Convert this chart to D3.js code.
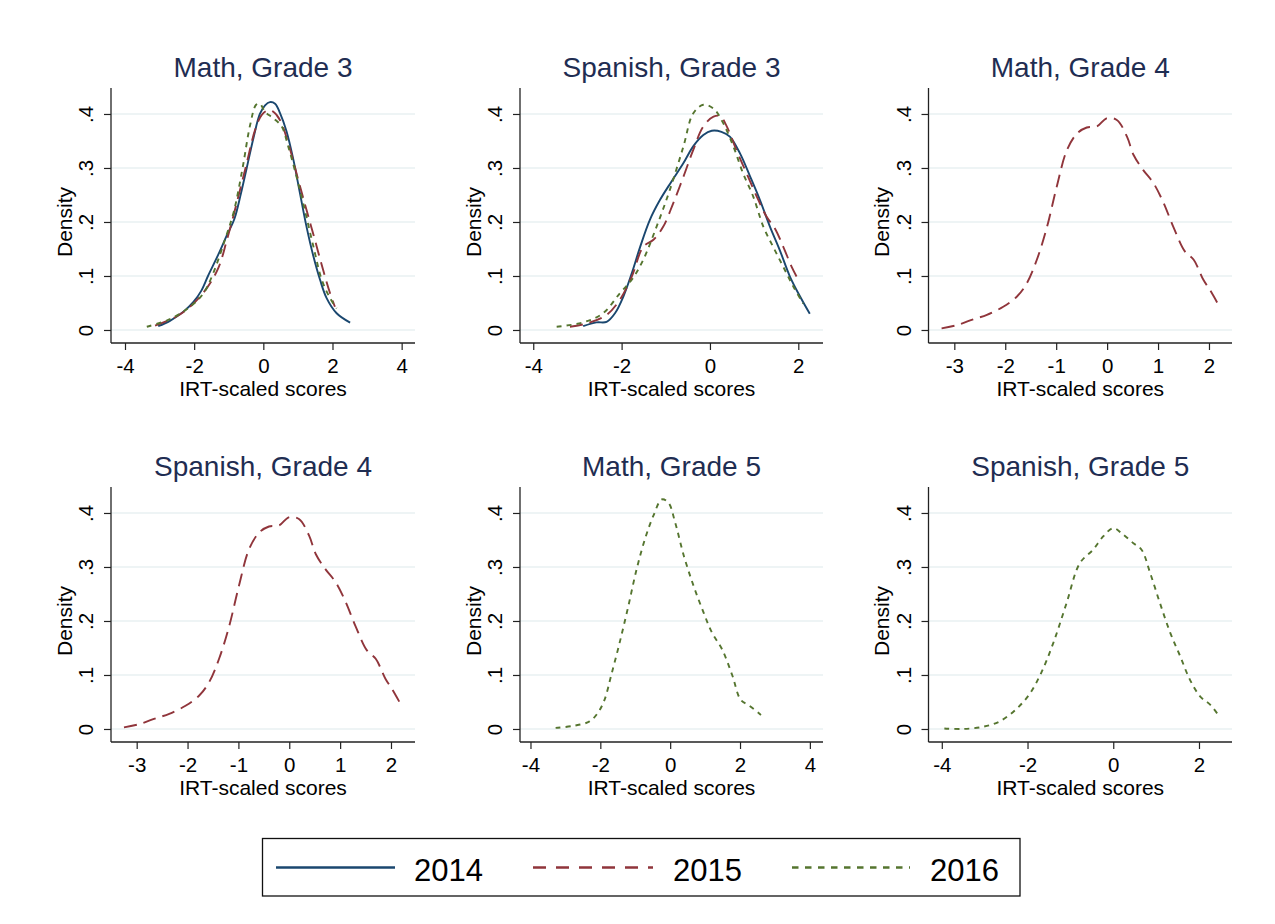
<!DOCTYPE html>
<html>
<head>
<meta charset="utf-8">
<script src="https://cdn.jsdelivr.net/npm/d3@7"></script>
<style>
  html, body { margin: 0; padding: 0; background: #fff; }
  svg { display: block; font-family: "Liberation Sans", Arial, Helvetica, sans-serif; }
</style>
</head>
<body>
<svg id="chart" width="1275" height="924"></svg>
<script>
// ---------------- DATA ----------------
const years = ["2014", "2015", "2016"];
const panelTitles = ["Math, Grade 3", "Spanish, Grade 3", "Math, Grade 4",
                     "Spanish, Grade 4", "Math, Grade 5", "Spanish, Grade 5"];
const xTickValues = [
  [-4, -2, 0, 2, 4],
  [-4, -2, 0, 2],
  [-3, -2, -1, 0, 1, 2],
  [-3, -2, -1, 0, 1, 2],
  [-4, -2, 0, 2, 4],
  [-4, -2, 0, 2]
];
const xDomains = [
  [-4.405, 4.386], [-4.30, 2.559], [-3.507, 2.452],
  [-3.505, 2.472], [-4.30, 4.376], [-4.31, 2.77]
];
const yTickValues = [0, 0.1, 0.2, 0.3, 0.4];
const yTickLabels = ["0", ".1", ".2", ".3", ".4"];
const xAxisTitle = "IRT-scaled scores";
const yAxisTitle = "Density";

// Math, Grade 3
const mathG3_2014 = [[-3.04,0.007],[-2.70,0.017],[-2.31,0.034],[-2.02,0.052],[-1.80,0.072],[-1.60,0.100],[-1.30,0.140],[-1.05,0.176],[-0.84,0.205],[-0.65,0.252],[-0.48,0.300],[-0.28,0.357],[-0.10,0.400],[0.05,0.416],[0.19,0.422],[0.34,0.419],[0.48,0.402],[0.67,0.368],[0.87,0.315],[1.06,0.253],[1.25,0.191],[1.45,0.136],[1.64,0.093],[1.83,0.059],[2.12,0.031],[2.51,0.0136]];
const mathG3_2015 = [[-3.13,0.008],[-2.51,0.025],[-2.12,0.043],[-1.64,0.077],[-1.30,0.115],[-1.06,0.165],[-0.77,0.235],[-0.48,0.309],[-0.24,0.370],[-0.05,0.398],[0.14,0.407],[0.29,0.404],[0.48,0.389],[0.72,0.346],[1.01,0.278],[1.25,0.222],[1.49,0.167],[1.73,0.111],[1.93,0.068],[2.07,0.043]];
const mathG3_2016 = [[-3.37,0.006],[-2.70,0.020],[-2.12,0.043],[-1.73,0.068],[-1.45,0.105],[-1.11,0.167],[-0.85,0.220],[-0.60,0.300],[-0.38,0.380],[-0.21,0.417],[-0.10,0.419],[0.05,0.404],[0.29,0.392],[0.53,0.377],[0.72,0.340],[0.96,0.284],[1.20,0.222],[1.45,0.154],[1.69,0.093],[1.93,0.059],[2.12,0.040]];

// Spanish, Grade 3
const spanG3_2014 = [[-2.87,0.007],[-2.57,0.014],[-2.34,0.015],[-2.15,0.031],[-1.96,0.062],[-1.77,0.105],[-1.58,0.154],[-1.36,0.204],[-1.13,0.241],[-0.87,0.275],[-0.60,0.309],[-0.38,0.340],[-0.15,0.361],[0.04,0.369],[0.26,0.367],[0.45,0.358],[0.68,0.327],[0.91,0.284],[1.13,0.241],[1.36,0.191],[1.58,0.148],[1.81,0.099],[2.04,0.062],[2.26,0.030]];
const spanG3_2015 = [[-3.17,0.006],[-2.79,0.012],[-2.34,0.028],[-2.04,0.056],[-1.77,0.099],[-1.51,0.154],[-1.28,0.167],[-1.06,0.191],[-0.83,0.235],[-0.60,0.284],[-0.38,0.333],[-0.15,0.377],[0.08,0.395],[0.23,0.396],[0.38,0.377],[0.60,0.333],[0.83,0.290],[1.06,0.247],[1.28,0.210],[1.47,0.188],[1.66,0.154],[1.85,0.117],[2.00,0.093]];
const spanG3_2016 = [[-3.47,0.006],[-2.87,0.014],[-2.42,0.031],[-2.04,0.068],[-1.77,0.093],[-1.51,0.130],[-1.21,0.191],[-0.91,0.259],[-0.60,0.340],[-0.38,0.401],[-0.15,0.417],[0.08,0.410],[0.30,0.383],[0.53,0.340],[0.75,0.290],[0.98,0.247],[1.21,0.191],[1.43,0.154],[1.66,0.117],[1.89,0.080],[2.11,0.049]];

// Math, Grade 4 (2015 only)
const mathG4_2015 = [[-3.25,0.003],[-2.95,0.009],[-2.62,0.020],[-2.36,0.028],[-2.04,0.043],[-1.77,0.062],[-1.58,0.086],[-1.38,0.130],[-1.18,0.191],[-0.99,0.265],[-0.79,0.333],[-0.59,0.364],[-0.40,0.375],[-0.20,0.377],[-0.01,0.392],[0.19,0.389],[0.39,0.358],[0.52,0.324],[0.71,0.296],[0.91,0.272],[1.11,0.235],[1.30,0.191],[1.53,0.145],[1.70,0.130],[1.89,0.093],[2.02,0.074],[2.19,0.046]];
// Spanish, Grade 4 (2015 only)
const spanG4_2015 = [[-3.25,0.003],[-2.95,0.009],[-2.62,0.020],[-2.36,0.028],[-2.04,0.043],[-1.77,0.062],[-1.58,0.086],[-1.38,0.130],[-1.18,0.191],[-0.99,0.265],[-0.79,0.333],[-0.59,0.364],[-0.40,0.375],[-0.20,0.377],[-0.01,0.392],[0.19,0.389],[0.39,0.358],[0.52,0.324],[0.71,0.296],[0.91,0.272],[1.11,0.235],[1.30,0.191],[1.53,0.145],[1.70,0.130],[1.89,0.093],[2.02,0.074],[2.19,0.046]];
// Math, Grade 5 (2016 only)
const mathG5_2016 = [[-3.28,0.002],[-2.75,0.006],[-2.31,0.014],[-2.07,0.030],[-1.88,0.054],[-1.69,0.099],[-1.45,0.159],[-1.20,0.227],[-0.96,0.296],[-0.72,0.352],[-0.48,0.395],[-0.24,0.425],[-0.05,0.419],[0.14,0.383],[0.39,0.321],[0.67,0.265],[0.96,0.215],[1.20,0.178],[1.49,0.147],[1.78,0.099],[2.02,0.054],[2.27,0.043],[2.60,0.026]];
// Spanish, Grade 5 (2016 only)
const spanG5_2016 = [[-3.94,0.001],[-3.51,0.000],[-3.04,0.004],[-2.65,0.014],[-2.26,0.037],[-1.95,0.065],[-1.68,0.104],[-1.40,0.159],[-1.09,0.233],[-0.78,0.307],[-0.47,0.332],[-0.23,0.357],[0.00,0.372],[0.23,0.360],[0.47,0.344],[0.66,0.332],[0.86,0.289],[1.09,0.233],[1.33,0.178],[1.56,0.135],[1.79,0.091],[2.03,0.060],[2.26,0.045],[2.46,0.025]];

const panelSeries = [
  {"2014": mathG3_2014, "2015": mathG3_2015, "2016": mathG3_2016},
  {"2014": spanG3_2014, "2015": spanG3_2015, "2016": spanG3_2016},
  {"2015": mathG4_2015},
  {"2015": spanG4_2015},
  {"2016": mathG5_2016},
  {"2016": spanG5_2016}
];

// ---------------- STYLE ----------------
const colors = {"2014": "#1a476f", "2015": "#90353b", "2016": "#55752f"};
const dashes = {"2014": null, "2015": "13,7", "2016": "5,5"};
const legendDashes = {"2014": null, "2015": "13,10", "2016": "6.5,6.5"};

const svg = d3.select("#chart");
svg.append("rect").attr("width", 1275).attr("height", 924).attr("fill", "#fff");

const colLeft = [111, 520, 928.5];
const colRight = [415, 823, 1232];
const rowTop = [88, 487];
const rowBottom = [343, 742];

panelTitles.forEach((title, i) => {
  const r = Math.floor(i / 3), c = i % 3;
  const x0 = colLeft[c], x1 = colRight[c];
  const yTop = rowTop[r], yBot = rowBottom[r];
  const x = d3.scaleLinear().domain(xDomains[i]).range([x0, x1]);
  const y = d3.scaleLinear().domain([-0.0241, 0.4481]).range([yBot, yTop]);
  const g = svg.append("g");

  // gridlines
  g.selectAll("line.grid").data(yTickValues).join("line")
    .attr("x1", x0).attr("x2", x1)
    .attr("y1", d => y(d)).attr("y2", d => y(d))
    .attr("stroke", "#e8f0f2").attr("stroke-width", 1.6);

  // y axis
  const yAxis = d3.axisLeft(y).tickValues(yTickValues)
    .tickFormat((d, k) => yTickLabels[k]).tickSize(7).tickSizeOuter(0);
  const ya = g.append("g").attr("transform", `translate(${x0},0)`).call(yAxis);
  ya.select(".domain").attr("d", `M0,${yTop}V${yBot}`).attr("stroke", "#222").attr("stroke-width", 1.3);
  ya.selectAll(".tick line").attr("stroke", "#222").attr("stroke-width", 1.2);
  ya.selectAll(".tick text")
    .attr("font-size", 20.5).attr("fill", "#000")
    .attr("x", null).attr("dy", null)
    .attr("text-anchor", "middle")
    .attr("transform", "translate(-18,0) rotate(-90)")
    .attr("y", 0);

  // x axis
  const xAxis = d3.axisBottom(x).tickValues(xTickValues[i])
    .tickFormat(d3.format("d")).tickSize(7).tickSizeOuter(0);
  const xa = g.append("g").attr("transform", `translate(0,${yBot})`).call(xAxis);
  xa.select(".domain").attr("d", `M${x0},0H${x1}`).attr("stroke", "#222").attr("stroke-width", 1.3);
  xa.selectAll(".tick line").attr("stroke", "#222").attr("stroke-width", 1.2);
  xa.selectAll(".tick text").attr("font-size", 20.5).attr("fill", "#000")
    .attr("y", 29.5).attr("dy", null)
    .text(d => (d < 0 ? "-" + Math.abs(d) : String(d)));

  // axis titles
  g.append("text").attr("x", (x0 + x1) / 2).attr("y", yBot + 52.5)
    .attr("text-anchor", "middle").attr("font-size", 21).attr("fill", "#000")
    .text(xAxisTitle);
  g.append("text")
    .attr("transform", `translate(${x0 - 39.5},${y(0.2)}) rotate(-90)`)
    .attr("text-anchor", "middle").attr("font-size", 21).attr("fill", "#000")
    .text(yAxisTitle);

  // title
  g.append("text").attr("x", (x0 + x1) / 2).attr("y", yTop - 11.5)
    .attr("text-anchor", "middle").attr("font-size", 28).attr("fill", "#1f2d52")
    .text(title);

  // curves
  const line = d3.line().x(d => x(d[0])).y(d => y(d[1])).curve(d3.curveCatmullRom.alpha(0.5));
  years.forEach(yr => {
    const s = panelSeries[i][yr];
    if (!s) return;
    g.append("path").datum(s)
      .attr("d", line)
      .attr("fill", "none")
      .attr("stroke", colors[yr])
      .attr("stroke-width", 1.9)
      .attr("stroke-dasharray", dashes[yr])
      .attr("stroke-linejoin", "round");
  });
});

// ---------------- LEGEND ----------------
const legend = svg.append("g");
legend.append("rect").attr("x", 262.5).attr("y", 838.5).attr("width", 757.5).attr("height", 57.5)
  .attr("fill", "#fff").attr("stroke", "#111").attr("stroke-width", 1.3);
const legendLineX = [[276, 395], [533, 653], [792, 910]];
const legendTextX = [414, 673, 930];
years.forEach((yr, k) => {
  legend.append("line")
    .attr("x1", legendLineX[k][0]).attr("x2", legendLineX[k][1])
    .attr("y1", 867.5).attr("y2", 867.5)
    .attr("stroke", colors[yr]).attr("stroke-width", 2.6)
    .attr("stroke-dasharray", legendDashes[yr]);
  legend.append("text").attr("x", legendTextX[k]).attr("y", 880.5)
    .attr("font-size", 31).attr("fill", "#000").text(yr);
});
</script>
</body>
</html>
